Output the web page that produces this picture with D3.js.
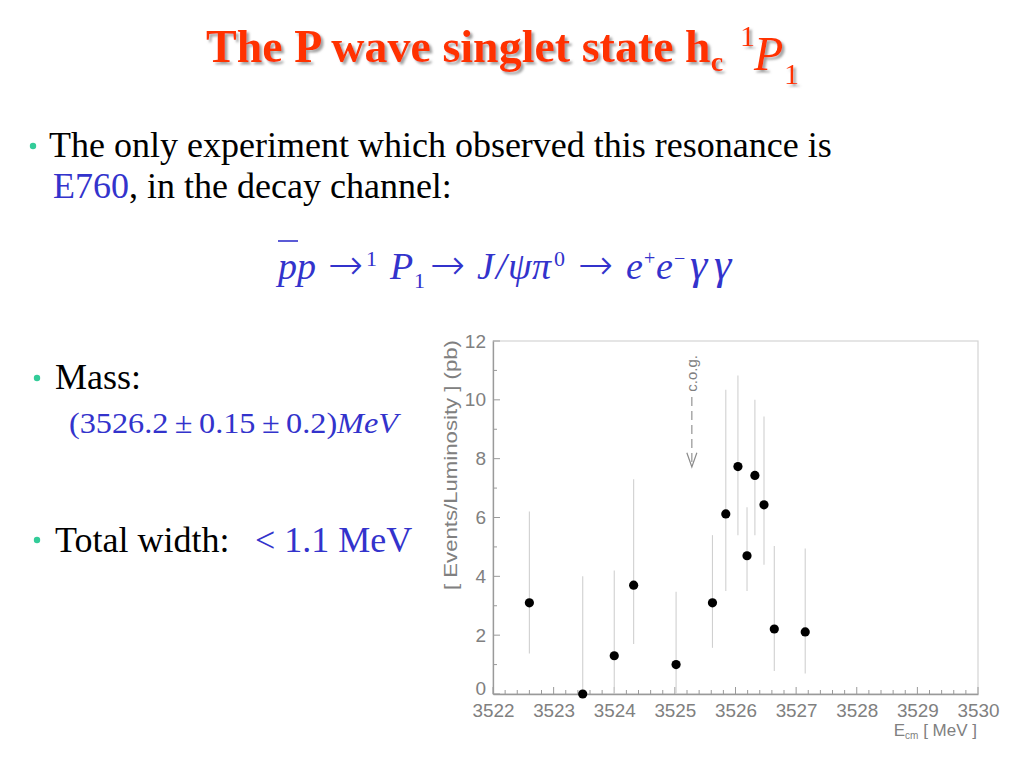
<!DOCTYPE html>
<html>
<head>
<meta charset="utf-8">
<script src="https://cdn.jsdelivr.net/npm/d3@7"></script>
<style>
  body { margin: 0; background: #fff; }
  svg { display: block; }
</style>
</head>
<body>
<script>
// data
var energy  = [3522.6, 3523.48, 3524.0, 3524.32, 3525.02, 3525.62, 3525.84, 3526.04, 3526.19, 3526.32, 3526.47, 3526.64, 3527.15];
var rate    = [3.1, 0.0, 1.3, 3.7, 1.0, 3.1, 6.12, 7.73, 4.7, 7.43, 6.43, 2.21, 2.11];
var errLow  = [1.38, 0, 0, 1.7, 0, 1.57, 3.5, 5.4, 3.5, 5.4, 4.39, 0.78, 0.7];
var errHigh = [6.2, 4.0, 4.2, 7.3, 3.48, 5.4, 10.34, 10.83, 6.35, 10.0, 9.43, 5.03, 4.95];
var xTicks = [3522, 3523, 3524, 3525, 3526, 3527, 3528, 3529, 3530];
var yTicks = [0, 2, 4, 6, 8, 10, 12];
var cogEnergy = 3525.28;

var width = 1023, height = 767;
var serif = "'Liberation Serif', 'Times New Roman', serif";
var sans = "'Liberation Sans', Arial, sans-serif";
var blue = "#3333cc", red = "#ff3300", teal = "#33cc99";

var svg = d3.select('body').append('svg').attr('width', width).attr('height', height);

// shadow filter for the title
var f = svg.append('defs').append('filter').attr('id', 'shadow')
    .attr('x', '-5%').attr('y', '-20%').attr('width', '110%').attr('height', '150%');
f.append('feDropShadow').attr('dx', 2.5).attr('dy', 2.5).attr('stdDeviation', 0.8)
    .attr('flood-color', '#999').attr('flood-opacity', 0.9);

// helper for text with sub/superscripts
function rich(g, x, y, parts, base) {
    var t = g.append('text').attr('x', x).attr('y', y)
        .style('font-family', serif).style('font-size', base.size + 'px')
        .attr('fill', base.fill);
    if (base.weight) t.style('font-weight', base.weight);
    var cur = 0;
    parts.forEach(function(p) {
        var s = p.shift || 0;
        var ts = t.append('tspan').attr('dy', s - cur).text(p.t);
        cur = s;
        if (p.x != null) ts.attr('x', p.x);
        if (p.size) ts.style('font-size', p.size + 'px');
        if (p.it) ts.style('font-style', 'italic');
        if (p.w) ts.style('font-weight', p.w);
        if (p.fill) ts.attr('fill', p.fill);
        if (p.font) ts.style('font-family', p.font);
    });
    return t;
}

// title
rich(svg, 206, 62, [
    {t: 'The P wave singlet state h'},
    {t: 'c', size: 28, shift: 9},
    {t: '1', size: 30, shift: -16, w: 'normal', x: 740},
    {t: 'P', size: 48, shift: 8, it: true, w: 'normal', x: 754},
    {t: '1', size: 30, shift: 22, w: 'normal', x: 784}
], {size: 46, fill: red, weight: 'bold'}).attr('filter', 'url(#shadow)');

// bullets
function bullet(x, y) {
    svg.append('circle').attr('cx', x).attr('cy', y).attr('r', 3.2).attr('fill', teal);
}
bullet(33, 146);
svg.append('text').attr('x', 49).attr('y', 157).style('font-family', serif).style('font-size', '36px')
    .attr('fill', '#000').text('The only experiment which observed this resonance is');
rich(svg, 53, 198, [{t: 'E760', fill: blue}, {t: ', in the decay channel:'}], {size: 36, fill: '#000'});

// decay equation
var arrowFont = "'DejaVu Sans', sans-serif";
rich(svg, 278, 279, [
    {t: 'pp', it: true},
    {t: '\u2192', x: 328, font: arrowFont, size: 42, w: 200},
    {t: '1', size: 22, shift: -13, x: 366},
    {t: 'P', it: true, shift: 0, x: 390},
    {t: '1', size: 22, shift: 9, x: 414},
    {t: '\u2192', shift: 0, x: 430, font: arrowFont, size: 42, w: 200},
    {t: 'J', it: true, x: 477},
    {t: '/', it: true, x: 496},
    {t: '\u03c8', it: true, x: 508},
    {t: '\u03c0', it: true, x: 532},
    {t: '0', size: 22, shift: -13, x: 554},
    {t: '\u2192', shift: 0, x: 578, font: arrowFont, size: 42, w: 200},
    {t: 'e', it: true, x: 626},
    {t: '+', size: 20, shift: -14, x: 644},
    {t: 'e', it: true, shift: 0, x: 656},
    {t: '\u2212', size: 20, shift: -14, x: 674},
    {t: '\u03b3', it: true, shift: 0, x: 690, size: 44},
    {t: '\u03b3', it: true, x: 714, size: 44}
], {size: 38, fill: blue});
svg.append('line').attr('x1', 278).attr('x2', 298).attr('y1', 241).attr('y2', 241)
    .attr('stroke', blue).attr('stroke-width', 1.6);

bullet(37, 378);
svg.append('text').attr('x', 55).attr('y', 389).style('font-family', serif).style('font-size', '36px')
    .text('Mass:');
rich(svg, 69, 433, [{t: '(3526.2\u2009\u00b1\u20090.15\u2009\u00b1\u20090.2)'}, {t: 'MeV', it: true}], {size: 30, fill: blue})
    .attr('textLength', 329).attr('lengthAdjust', 'spacingAndGlyphs');

bullet(37, 540);
rich(svg, 55, 552, [{t: 'Total width:'}, {t: '< 1.1 MeV', fill: blue, x: 255}], {size: 36, fill: '#000'});

// chart
var x0 = 493, x1 = 978, y0 = 694, y1 = 341;
var xScale = d3.scaleLinear().domain([3522, 3530]).range([x0, x1]);
var yScale = d3.scaleLinear().domain([0, 12]).range([y0, y1]);
var axisCol = '#9a9a9a', textCol = '#808080';

var chart = svg.append('g');
chart.append('rect').attr('x', x0).attr('y', y1).attr('width', x1 - x0).attr('height', y0 - y1)
    .attr('fill', 'none').attr('stroke', '#d4d4d4').attr('stroke-width', 1.2);

// minor ticks (inward)
var xMinor = d3.range(3522, 3530.001, 0.2);
chart.append('g').selectAll('line').data(xMinor).enter().append('line')
    .attr('x1', d => xScale(d)).attr('x2', d => xScale(d))
    .attr('y1', y0).attr('y2', (d, i) => i % 5 === 0 ? y0 - 7 : y0 - 4)
    .attr('stroke', axisCol).attr('stroke-width', 1);
var yMinor = d3.range(0, 12.001, 1);
chart.append('g').selectAll('line').data(yMinor).enter().append('line')
    .attr('y1', d => yScale(d)).attr('y2', d => yScale(d))
    .attr('x1', x0).attr('x2', (d, i) => i % 2 === 0 ? x0 + 7 : x0 + 4)
    .attr('stroke', axisCol).attr('stroke-width', 1);

// axes
var bottomAxis = d3.axisBottom(xScale).tickValues(xTicks).tickSize(0).tickPadding(10).tickFormat(d3.format('d'));
var leftAxis = d3.axisLeft(yScale).tickValues(yTicks).tickSize(0).tickPadding(7).tickFormat(d3.format('d'));
var gx = chart.append('g').attr('transform', `translate(0,${y0})`).call(bottomAxis);
var gy = chart.append('g').attr('transform', `translate(${x0},0)`).call(leftAxis);
[gx, gy].forEach(function(g) {
    g.select('.domain').attr('stroke', axisCol).attr('stroke-width', 1.3);
    g.selectAll('text').attr('fill', textCol).style('font-family', sans).style('font-size', '19px');
});
gx.selectAll('text').attr('textLength', 42).attr('lengthAdjust', 'spacingAndGlyphs');
gy.selectAll('text').filter(d => d === 0).attr('dy', '0.05em');

// axis titles
svg.append('text').attr('transform', 'translate(457,465) rotate(-90)').attr('text-anchor', 'middle')
    .style('font-family', sans).style('font-size', '18px').attr('fill', textCol)
    .attr('textLength', 250).attr('lengthAdjust', 'spacingAndGlyphs')
    .text('[ Events/Luminosity ] (pb)');
var xl = svg.append('text').attr('x', 977).attr('y', 736).attr('text-anchor', 'end')
    .style('font-family', sans).style('font-size', '17px').attr('fill', textCol);
xl.append('tspan').text('E');
xl.append('tspan').attr('dy', 3).style('font-size', '10px').text('cm');
xl.append('tspan').attr('dy', -3).text(' [ MeV ]');

// error bars
var pts = energy.map((e, i) => ({e: e, v: rate[i], lo: errLow[i], hi: errHigh[i]}));
chart.append('g').selectAll('line').data(pts).enter().append('line')
    .attr('x1', d => xScale(d.e)).attr('x2', d => xScale(d.e))
    .attr('y1', d => yScale(d.lo)).attr('y2', d => yScale(d.hi))
    .attr('stroke', '#d0d0d0').attr('stroke-width', 1.1);
chart.append('g').selectAll('circle').data(pts).enter().append('circle')
    .attr('cx', d => xScale(d.e)).attr('cy', d => yScale(d.v)).attr('r', 4.6).attr('fill', '#000');

// c.o.g. arrow
var cx = xScale(cogEnergy);
chart.append('line').attr('x1', cx).attr('x2', cx).attr('y1', yScale(10.1)).attr('y2', yScale(7.75))
    .attr('stroke', '#8a8a8a').attr('stroke-width', 1.1).attr('stroke-dasharray', '9,5');
chart.append('path')
    .attr('d', `M${cx - 5},${yScale(8.2)} L${cx},${yScale(7.72)} L${cx + 5},${yScale(8.2)}`)
    .attr('fill', 'none').attr('stroke', '#8a8a8a').attr('stroke-width', 1.2);
chart.append('text').attr('transform', `translate(${cx + 5},${yScale(10.9)}) rotate(-90)`)
    .attr('text-anchor', 'middle').style('font-family', sans).style('font-size', '15px').attr('fill', textCol)
    .text('c.o.g.');
</script>
</body>
</html>
